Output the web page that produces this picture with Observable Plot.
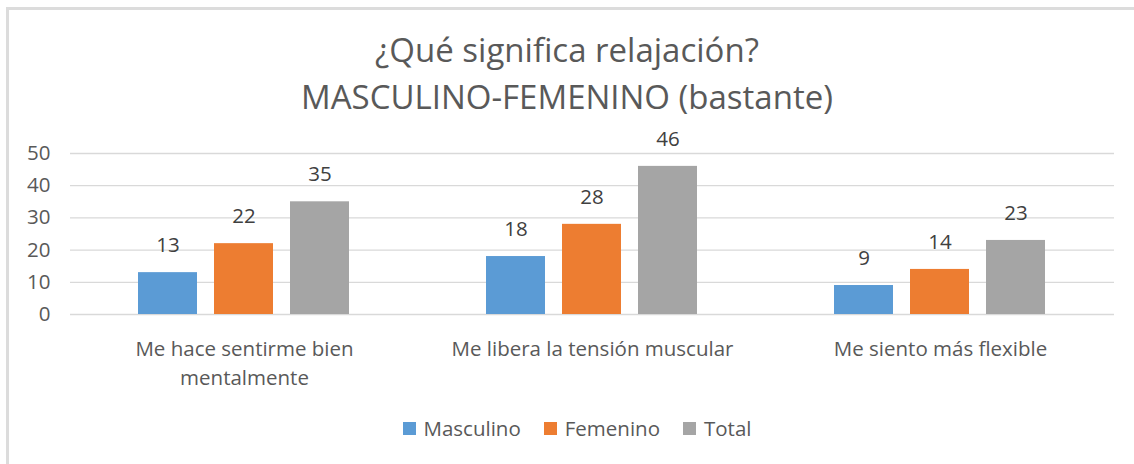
<!DOCTYPE html>
<html>
<head>
<meta charset="utf-8">
<script src="https://cdn.jsdelivr.net/npm/d3@7"></script>
<script src="https://cdn.jsdelivr.net/npm/@observablehq/plot@0.6"></script>
<style>
  html, body { margin: 0; padding: 0; background: #fff; }
  #wrap { position: relative; width: 1134px; height: 464px; overflow: hidden; font-family: "Open Sans", sans-serif; }
  #borderTop { position: absolute; left: 6px; top: 7px; width: 1128px; height: 3px; background: #dcdcdc; }
  #borderLeft { position: absolute; left: 6px; top: 7px; width: 3px; height: 457px; background: #dcdcdc; }
  .title { position: absolute; left: 0; width: 1134px; text-align: center; color: #595959; font-size: 33px; line-height: 38px; }
  #chart { position: absolute; left: 0; top: 120px; }
  #legend { position: absolute; left: 10px; top: 414px; width: 1134px; display: flex; justify-content: center; gap: 23px; color: #595959; font-size: 20.5px; line-height: 28px; }
  .item { display: flex; align-items: center; }
  .sw { width: 13px; height: 13px; margin-right: 8px; }
</style>
</head>
<body>
<div id="wrap">
  <div id="borderTop"></div>
  <div id="borderLeft"></div>
  <div class="title" style="top:31px">¿Qué significa relajación?</div>
  <div class="title" style="top:78px">MASCULINO-FEMENINO (bastante)</div>
  <div id="chart"></div>
  <div id="legend"></div>
</div>
<script>
const categories = ["Me hace sentirme bien mentalmente", "Me libera la tensión muscular", "Me siento más flexible"];
const categoryLabels = ["Me hace sentirme bien\nmentalmente", "Me libera la tensión muscular", "Me siento más flexible"];
const series = ["Masculino", "Femenino", "Total"];
const masculino = [13, 18, 9];
const femenino = [22, 28, 14];
const total = [35, 46, 23];
const colors = ["#5B9BD5", "#ED7D31", "#A5A5A5"];
const yTicks = [0, 10, 20, 30, 40, 50];

const values = [masculino, femenino, total];
const data = [];
categories.forEach((c, i) => {
  series.forEach((s, j) => data.push({cat: c, series: s, value: values[j][i]}));
});

const chart = Plot.plot({
  width: 1134,
  height: 270,
  marginLeft: 70,
  marginRight: 20,
  marginTop: 33,
  marginBottom: 76,
  style: {fontFamily: "'Open Sans', sans-serif", fontSize: "20.5px", color: "#595959", background: "transparent"},
  fx: {domain: categories, padding: 0, label: null},
  x: {domain: series, paddingInner: 0.22, paddingOuter: 0.87, axis: null},
  y: {domain: [0, 50], label: null},
  color: {domain: series, range: colors},
  marks: [
    Plot.ruleY(yTicks, {stroke: "#d9d9d9", strokeWidth: 1.3}),
    Plot.barY(data, {fx: "cat", x: "series", y: "value", fill: "series"}),
    Plot.text(data, {fx: "cat", x: "series", y: "value", text: d => String(d.value), dy: -27, fill: "#404040", fontSize: 20.5}),
    Plot.axisY({ticks: yTicks, tickSize: 0, tickPadding: 20, label: null, fill: "#595959"}),
    Plot.axisFx({anchor: "bottom", tickSize: 0, tickPadding: 20, label: null, lineHeight: 1.45,
      tickFormat: d => categoryLabels[categories.indexOf(d)], fill: "#595959"})
  ]
});
document.getElementById("chart").appendChild(chart);

const legend = document.getElementById("legend");
series.forEach((s, i) => {
  const item = document.createElement("div");
  item.className = "item";
  const sw = document.createElement("span");
  sw.className = "sw";
  sw.style.background = colors[i];
  const t = document.createElement("span");
  t.textContent = s;
  item.appendChild(sw);
  item.appendChild(t);
  legend.appendChild(item);
});
</script>
</body>
</html>
